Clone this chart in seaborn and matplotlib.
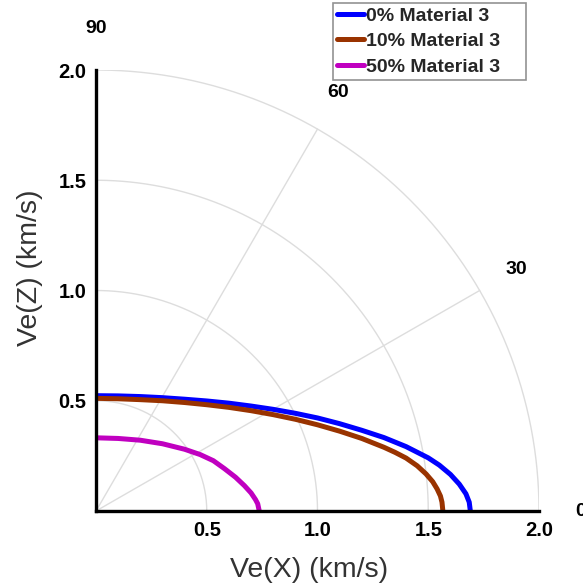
import numpy as np
import pandas as pd
import seaborn as sns
import matplotlib.pyplot as plt

# velocity curves (km/s)
x_0 = [0.0, 0.1, 0.2, 0.3, 0.4, 0.5, 0.6, 0.7, 0.8, 0.9, 1.0, 1.1, 1.2, 1.3, 1.4,
       1.5, 1.55, 1.6, 1.64, 1.67, 1.685, 1.69]
z_0 = [0.523, 0.522, 0.519, 0.514, 0.507, 0.499, 0.489, 0.476, 0.461, 0.443, 0.422,
       0.396, 0.366, 0.333, 0.292, 0.241, 0.208, 0.166, 0.122, 0.078, 0.040, 0.0]

x_10 = [0.0, 0.1, 0.2, 0.3, 0.4, 0.5, 0.6, 0.7, 0.8, 0.9, 1.0, 1.1, 1.2, 1.3, 1.35,
        1.4, 1.45, 1.49, 1.52, 1.54, 1.555, 1.562, 1.566]
z_10 = [0.511, 0.509, 0.505, 0.500, 0.492, 0.482, 0.470, 0.455, 0.437, 0.416, 0.391,
        0.362, 0.329, 0.289, 0.266, 0.240, 0.205, 0.168, 0.133, 0.100, 0.068, 0.040, 0.0]

x_50 = [0.0, 0.1, 0.2, 0.3, 0.4, 0.47, 0.53, 0.58, 0.63, 0.67, 0.70, 0.72, 0.73, 0.737]
z_50 = [0.332, 0.329, 0.321, 0.305, 0.280, 0.256, 0.228, 0.192, 0.153, 0.115, 0.082,
        0.052, 0.033, 0.0]

labels = ["0% Material 3", "10% Material 3", "50% Material 3"]
colors = ["#0000ff", "#993300", "#c000c0"]

grid_r = [0.5, 1.0, 1.5, 2.0]
grid_angles = [30, 60]
angle_labels = [0, 30, 60, 90]

frames = []
for xs, zs, lab in zip([x_0, x_10, x_50], [z_0, z_10, z_50], labels):
    d = pd.DataFrame({"x": xs, "z": zs})
    d["series"] = lab
    frames.append(d)
data = pd.concat(frames, ignore_index=True)

sns.set_style("white")
plt.rcParams["font.family"] = ["Liberation Sans", "DejaVu Sans"]

fig = plt.figure(figsize=(5.83, 5.84), dpi=100)
ax = fig.add_axes([96 / 583, 73 / 584, 443 / 583, 441 / 584])

# polar grid
t = np.linspace(0, np.pi / 2, 200)
for r in grid_r:
    ax.plot(r * np.cos(t), r * np.sin(t), color="#dddddd", lw=1, zorder=0)
for a in grid_angles:
    ax.plot([0, 2 * np.cos(np.radians(a))], [0, 2 * np.sin(np.radians(a))],
            color="#dddddd", lw=1, zorder=0)

sns.lineplot(data=data, x="x", y="z", hue="series", palette=colors, sort=False,
             units="series", estimator=None, lw=3.6, ax=ax, legend=True)

for a in angle_labels:
    ax.text(2.19 * np.cos(np.radians(a)), 2.19 * np.sin(np.radians(a)), str(a),
            ha="center", va="center", fontsize=14, fontweight="bold",
            color="black", clip_on=False)

ax.set_xlim(0, 2.0)
ax.set_ylim(0, 2.0)
ax.set_xticks([0.5, 1.0, 1.5, 2.0])
ax.set_yticks([0.5, 1.0, 1.5, 2.0])
ax.tick_params(length=0, labelsize=14.5, pad=7, colors="black")
for lab in ax.get_xticklabels() + ax.get_yticklabels():
    lab.set_fontweight("bold")
for s in ["top", "right"]:
    ax.spines[s].set_visible(False)
for s in ["left", "bottom"]:
    ax.spines[s].set_color("black")
    ax.spines[s].set_linewidth(2.4)

ax.set_xlabel("Ve(X) (km/s)", fontsize=20.5, color="#333333")
ax.set_ylabel("Ve(Z) (km/s)", fontsize=20.5, color="#333333")
ax.xaxis.set_label_coords(0.481, -0.104)
ax.yaxis.set_label_coords(-0.12, 0.551)

handles, names = ax.get_legend_handles_labels()
leg = ax.legend(handles, [n + "    " for n in names],
                loc="upper right", bbox_to_anchor=(526 / 583, 581 / 584),
                bbox_transform=fig.transFigure, frameon=True,
                prop={"size": 14, "weight": "bold"},
                fancybox=False, edgecolor="#777777", handlelength=1.4,
                handletextpad=0.1, borderpad=0.22, labelspacing=0.4,
                borderaxespad=0)
leg.get_frame().set_linewidth(1.2)
for line in leg.get_lines():
    line.set_linewidth(3.6)

fig.savefig("out.png", dpi=100)
